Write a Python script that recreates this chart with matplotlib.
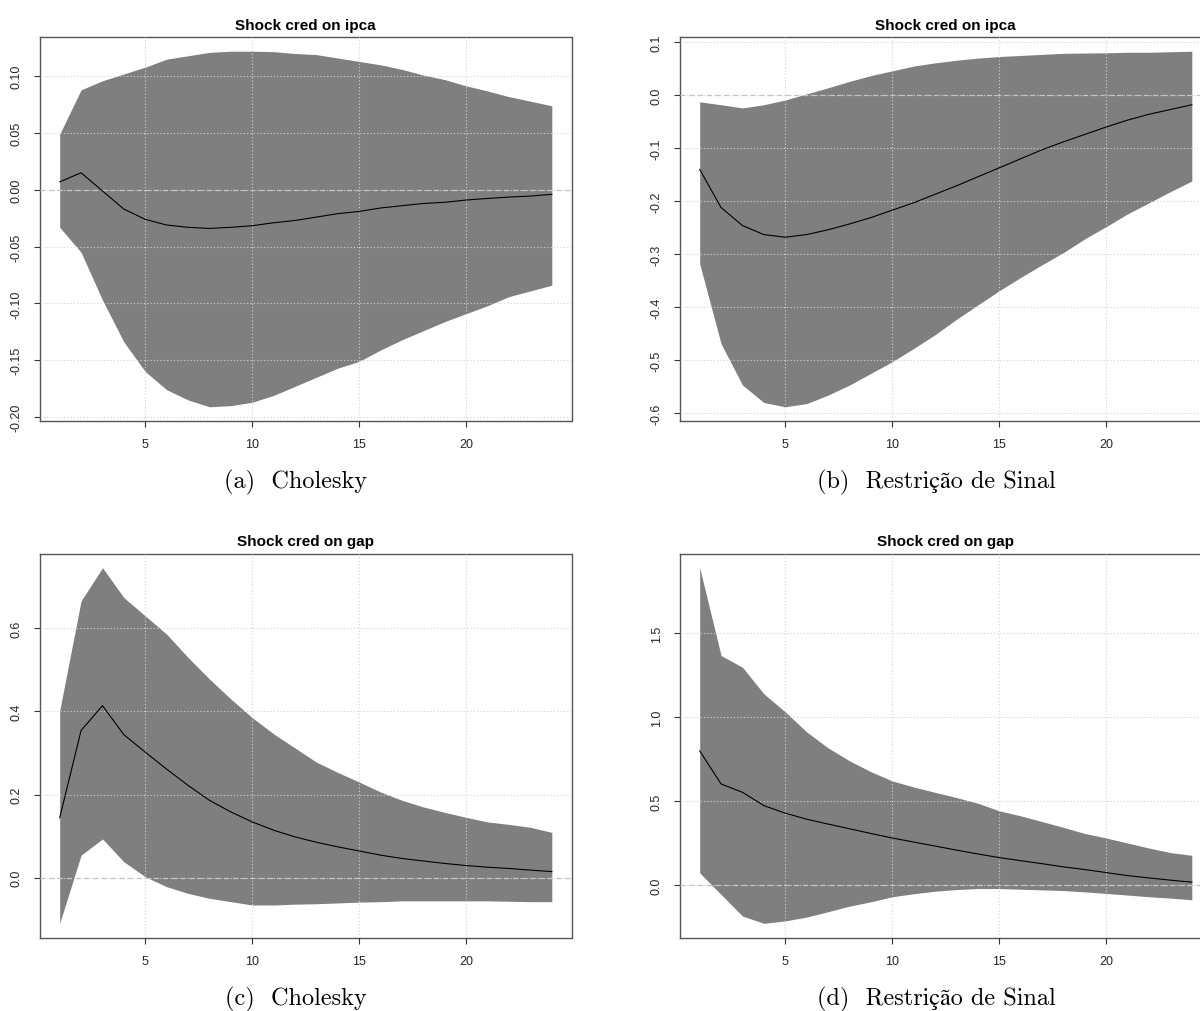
import numpy as np
import matplotlib
matplotlib.use("Agg")
import matplotlib.pyplot as plt

plt.rcParams['font.family'] = ['Liberation Sans', 'DejaVu Sans']

# horizon (months after the shock)
horizon = np.arange(1, 25)

# (a) Cholesky - Shock cred on ipca
ipca_chol_mid = [0.007, 0.015, -0.001, -0.017, -0.026, -0.031, -0.033, -0.034, -0.033, -0.0316,
                 -0.029, -0.027, -0.024, -0.021, -0.019, -0.016, -0.014, -0.012, -0.011, -0.009,
                 -0.0076, -0.0064, -0.0055, -0.004]
ipca_chol_hi = [0.049, 0.088, 0.096, 0.102, 0.108, 0.115, 0.118, 0.121, 0.122, 0.122,
                0.1216, 0.120, 0.119, 0.116, 0.113, 0.110, 0.106, 0.101, 0.097, 0.0915,
                0.087, 0.082, 0.078, 0.074]
ipca_chol_lo = [-0.033, -0.055, -0.097, -0.134, -0.160, -0.176, -0.185, -0.191, -0.190, -0.187,
                -0.181, -0.173, -0.165, -0.157, -0.151, -0.141, -0.132, -0.124, -0.116, -0.109,
                -0.102, -0.094, -0.089, -0.084]

# (b) Restricao de sinal - Shock cred on ipca
ipca_sign_mid = [-0.140, -0.212, -0.246, -0.263, -0.268, -0.263, -0.254, -0.243, -0.231, -0.217,
                 -0.203, -0.187, -0.171, -0.154, -0.137, -0.120, -0.103, -0.088, -0.074, -0.060,
                 -0.047, -0.036, -0.027, -0.018]
ipca_sign_hi = [-0.0125, -0.018, -0.024, -0.018, -0.009, 0.0025, 0.014, 0.026, 0.037, 0.046,
                0.055, 0.061, 0.066, 0.070, 0.073, 0.075, 0.077, 0.079, 0.0796, 0.080,
                0.081, 0.081, 0.082, 0.083]
ipca_sign_lo = [-0.318, -0.469, -0.547, -0.580, -0.588, -0.582, -0.566, -0.547, -0.525, -0.503,
                -0.478, -0.452, -0.423, -0.396, -0.369, -0.344, -0.320, -0.297, -0.271, -0.248,
                -0.224, -0.203, -0.182, -0.162]

# (c) Cholesky - Shock cred on gap
gap_chol_mid = [0.144, 0.354, 0.414, 0.344, 0.302, 0.261, 0.222, 0.186, 0.158, 0.134,
                0.114, 0.098, 0.085, 0.074, 0.064, 0.054, 0.046, 0.040, 0.034, 0.029,
                0.025, 0.022, 0.018, 0.0144]
gap_chol_hi = [0.402, 0.666, 0.746, 0.674, 0.630, 0.586, 0.530, 0.478, 0.430, 0.385,
               0.346, 0.312, 0.278, 0.253, 0.230, 0.206, 0.186, 0.170, 0.157, 0.145,
               0.134, 0.128, 0.121, 0.109]
gap_chol_lo = [-0.110, 0.054, 0.093, 0.038, 0.002, -0.022, -0.038, -0.050, -0.058, -0.066,
               -0.066, -0.064, -0.063, -0.061, -0.059, -0.058, -0.056, -0.056, -0.056, -0.056,
               -0.056, -0.057, -0.058, -0.058]

# (d) Restricao de sinal - Shock cred on gap
gap_sign_mid = [0.800, 0.603, 0.553, 0.474, 0.429, 0.393, 0.364, 0.336, 0.308, 0.281,
                0.257, 0.233, 0.209, 0.186, 0.164, 0.146, 0.128, 0.109, 0.093, 0.075,
                0.057, 0.043, 0.030, 0.018]
gap_sign_hi = [1.891, 1.368, 1.298, 1.140, 1.032, 0.913, 0.818, 0.741, 0.676, 0.621,
               0.585, 0.553, 0.522, 0.488, 0.443, 0.413, 0.379, 0.344, 0.308, 0.281,
               0.251, 0.221, 0.194, 0.178]
gap_sign_lo = [0.073, -0.055, -0.184, -0.227, -0.213, -0.190, -0.158, -0.125, -0.099, -0.069,
               -0.051, -0.036, -0.026, -0.020, -0.020, -0.024, -0.028, -0.032, -0.040, -0.049,
               -0.059, -0.069, -0.077, -0.087]

x_ticks = [5, 10, 15, 20]
ipca_chol_ticks = [-0.20, -0.15, -0.10, -0.05, 0.00, 0.05, 0.10]
ipca_chol_labels = ['-0.20', '-0.15', '-0.10', '-0.05', '0.00', '0.05', '0.10']
ipca_sign_ticks = [-0.6, -0.5, -0.4, -0.3, -0.2, -0.1, 0.0, 0.1]
ipca_sign_labels = ['-0.6', '-0.5', '-0.4', '-0.3', '-0.2', '-0.1', '0.0', '0.1']
gap_chol_ticks = [0.0, 0.2, 0.4, 0.6]
gap_chol_labels = ['0.0', '0.2', '0.4', '0.6']
gap_sign_ticks = [0.0, 0.5, 1.0, 1.5]
gap_sign_labels = ['0.0', '0.5', '1.0', '1.5']

W, H = 1200, 1012
fig = plt.figure(figsize=(W / 100, H / 100), dpi=100)


def irf_panel(left, top, lo, mid, hi, title, yticks, ylabels):
    # axes box in pixels: 531.5 wide, 384 tall
    ax = fig.add_axes([left / W, (H - top - 384) / H, 531.5 / W, 384 / H])
    ax.fill_between(horizon, lo, hi, color='#7f7f7f', lw=0, zorder=1)
    ax.axhline(0, color='#c4c4c4', lw=0.9, linestyle=(0, (4, 3)), zorder=3)
    ax.plot(horizon, mid, color='black', lw=0.8, zorder=4)
    ax.margins(x=0.04, y=0.04)
    ax.set_axisbelow(False)
    ax.grid(True, color='#d3d3d3', lw=0.8, linestyle=(0, (1, 2)))
    ax.set_xticks(x_ticks)
    ax.set_yticks(yticks)
    ax.set_yticklabels(ylabels, rotation=90, va='center')
    ax.tick_params(axis='both', length=4.3, width=0.8, color='#333333',
                   labelsize=9, pad=8, labelcolor='#262626')
    for s in ax.spines.values():
        s.set_color('#555555')
        s.set_linewidth(1.0)
    ax.set_title(title, fontsize=11, fontweight='bold', pad=6)
    return ax


irf_panel(40, 38, ipca_chol_lo, ipca_chol_mid, ipca_chol_hi,
          'Shock cred on ipca', ipca_chol_ticks, ipca_chol_labels)
irf_panel(680, 38, ipca_sign_lo, ipca_sign_mid, ipca_sign_hi,
          'Shock cred on ipca', ipca_sign_ticks, ipca_sign_labels)
irf_panel(40, 554.5, gap_chol_lo, gap_chol_mid, gap_chol_hi,
          'Shock cred on gap', gap_chol_ticks, gap_chol_labels)
irf_panel(680, 554.5, gap_sign_lo, gap_sign_mid, gap_sign_hi,
          'Shock cred on gap', gap_sign_ticks, gap_sign_labels)

# sub-figure captions (cmr10 has no accented letters, STIX fills in ç and ã)
cap_font = ['cmr10', 'STIXGeneral']
fig.text(296 / W, 1 - 488 / H, '(a)  Cholesky', ha='center', va='baseline',
         family=cap_font, size=17.5)
fig.text(936 / W, 1 - 488 / H, '(b)  Restrição de Sinal', ha='center', va='baseline',
         family=cap_font, size=17.5)
fig.text(296 / W, 1 - 1005 / H, '(c)  Cholesky', ha='center', va='baseline',
         family=cap_font, size=17.5)
fig.text(936 / W, 1 - 1005 / H, '(d)  Restrição de Sinal', ha='center', va='baseline',
         family=cap_font, size=17.5)

fig.savefig('out.png', dpi=100)
